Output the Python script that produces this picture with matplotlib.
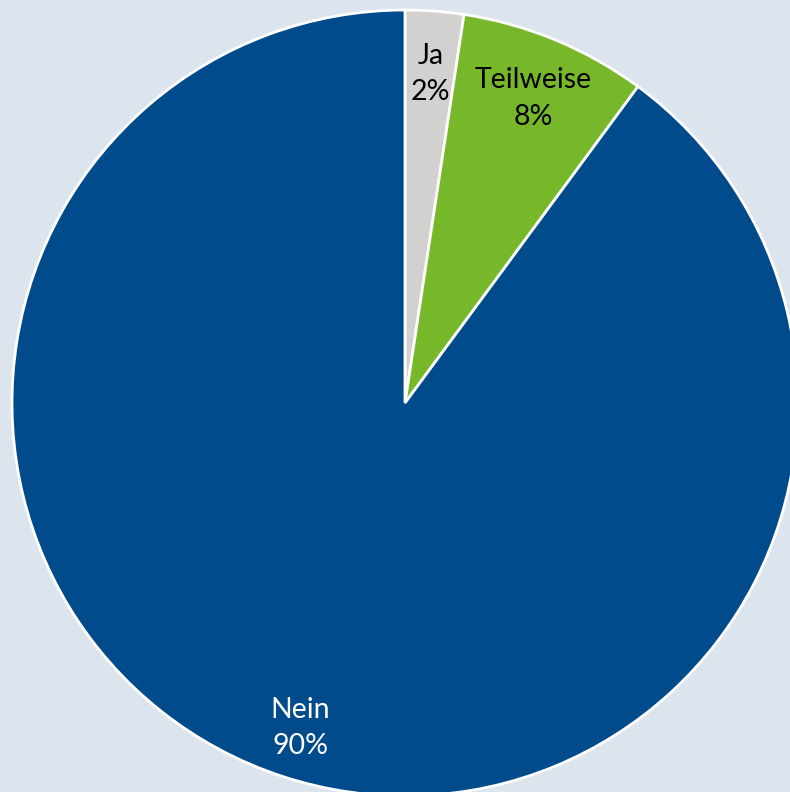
import matplotlib.pyplot as plt

labels = ['Ja', 'Teilweise', 'Nein']
values = [2.4, 7.7, 89.9]
colors = ['#d3d0d0', '#76b82a', '#004b8b']
text_colors = ['black', 'black', 'white']

plt.rcParams['font.family'] = ['Lato', 'DejaVu Sans']

fig = plt.figure(figsize=(7.9, 7.92), dpi=100)
fig.patch.set_facecolor('#dce4ee')
ax = fig.add_axes([0, 0, 1, 1])
ax.set_facecolor('#dce4ee')

wedges, texts, autotexts = ax.pie(
    values,
    colors=colors,
    startangle=90,
    counterclock=False,
    center=(405, 389),
    radius=393,
    autopct='%.0f%%',
    pctdistance=0.855,
    wedgeprops=dict(edgecolor='white', linewidth=2),
    frame=True,
)
for lab, t, c in zip(labels, autotexts, text_colors):
    t.set_text(f'{lab}\n{t.get_text()}')
    t.set_color(c)
    t.set_fontsize(20.5)
    t.set_linespacing(1.5)
    x, y = t.get_position()
    t.set_position((x, y - 6))

ax.set_xlim(0, 790)
ax.set_ylim(0, 792)
ax.set_aspect('auto')
ax.axis('off')

fig.savefig('out.png', dpi=100, facecolor=fig.get_facecolor())
